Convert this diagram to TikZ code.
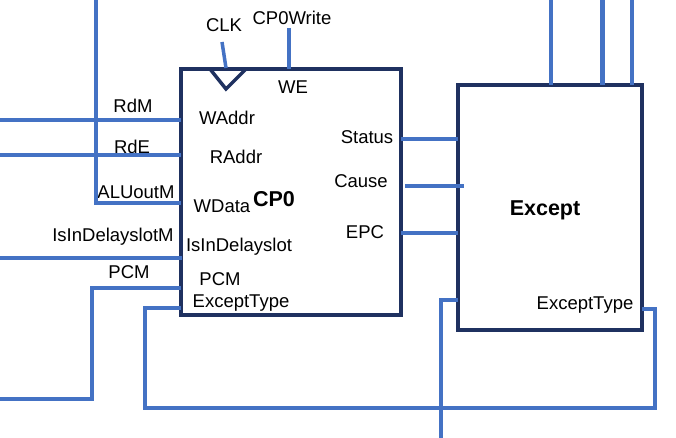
\documentclass[tikz,border=0pt]{standalone}
\usepackage{fontspec}
\setmainfont{Liberation Sans}
\definecolor{wireblue}{HTML}{4472C4}
\definecolor{boxnavy}{HTML}{1F3160}
\begin{document}
\begin{tikzpicture}[x=1pt, y=-1pt,
		font=\fontsize{18.5}{20}\selectfont,
		blk/.style={draw=boxnavy, line width=3.5pt, rectangle, inner sep=0pt},
		wire/.style={draw=wireblue, line width=3.5pt},
		lbl/.style={inner sep=0pt, text=black},
		title/.style={inner sep=0pt, font=\fontsize{21.5}{24}\selectfont\bfseries}]
	\useasboundingbox (0,0) rectangle (676,438);
	% the two blocks
	\node[blk, minimum width=220pt, minimum height=246pt] (cp0) at (291,192) {};
	\node[blk, minimum width=184pt, minimum height=245pt] (exc) at (550,207.5) {};
	\node[title] (cp0name) at (274,199) {CP0};
	\node[title] (excname) at (545,210) {Except};
	% clock mark
	\draw[draw=boxnavy, line width=3.5pt] (210,69) -- (226,89) -- (246,69);
	% ports of CP0
	\node[lbl] (we)     at (293,87)  {WE};
	\node[lbl] (waddr)  at (227,118) {WAddr};
	\node[lbl] (raddr)  at (236,157) {RAddr};
	\node[lbl] (wdata)  at (222,206) {WData};
	\node[lbl] (isin)   at (239,247) {IsInDelayslot};
	\node[lbl] (pcin)   at (220,279) {PCM};
	\node[lbl] (exct)   at (241,303) {ExceptType};
	\node[lbl] (status) at (367,137) {Status};
	\node[lbl] (cause)  at (361,181) {Cause};
	\node[lbl] (epc)    at (365,232) {EPC};
	\node[lbl] (exct2)  at (585,305) {ExceptType};
	% signal names
	\node[lbl] (clk)     at (224,25)  {CLK};
	\node[lbl] (cpwrite) at (292,18)  {CP0Write};
	\node[lbl] (rdm)     at (133,106) {RdM};
	\node[lbl] (rde)     at (132,147) {RdE};
	\node[lbl] (alum)    at (136,192) {ALUoutM};
	\node[lbl] (isinm)   at (113,237) {IsInDelayslotM};
	\node[lbl] (pcm)     at (129,272) {PCM};
	% wire ends
	\coordinate (clkA) at (222,42);   \coordinate (clkB) at (226,68);
	\coordinate (weA)  at (289,28);   \coordinate (weB)  at (289,69);
	\coordinate (rdmA) at (0,120);    \coordinate (rdmB) at (181,120);
	\coordinate (rdeA) at (0,155);    \coordinate (rdeB) at (181,155);
	\coordinate (aluA) at (96,0);     \coordinate (aluB) at (181,203);
	\coordinate (isA)  at (0,258);    \coordinate (isB)  at (182,258);
	\coordinate (pcA)  at (0,399);    \coordinate (pcB)  at (181,288);
	\coordinate (etA)  at (181,308);  \coordinate (etB)  at (642,309);
	\coordinate (stA)  at (401,139);  \coordinate (stB)  at (458,139);
	\coordinate (caA)  at (405,186);  \coordinate (caB)  at (464,186);
	\coordinate (epA)  at (401,233);  \coordinate (epB)  at (458,233);
	\coordinate (inA)  at (458,300);  \coordinate (inB)  at (441,438);
	\coordinate (t1A)  at (551,0);    \coordinate (t1B)  at (551,85);
	\coordinate (t2A)  at (602,0);    \coordinate (t2B)  at (602,85);
	\coordinate (t3A)  at (632,0);    \coordinate (t3B)  at (632,85);
	% wires
	\draw[wire] (clkA) -- (clkB);
	\draw[wire] (weA) -- (weB);
	\draw[wire] (rdmA) -- (rdmB);
	\draw[wire] (rdeA) -- (rdeB);
	\draw[wire] (aluA) |- (aluB);
	\draw[wire] (isA) -- (isB);
	\draw[wire] (pcA) -- ++(92,0) |- (pcB);
	\draw[wire] (etA) -| (145,408) -| (655,309) -- (etB);
	\draw[wire] (stA) -- (stB);
	\draw[wire] (caA) -- (caB);
	\draw[wire] (epA) -- (epB);
	\draw[wire] (inA) -| (inB);
	\draw[wire] (t1A) -- (t1B);
	\draw[wire, line width=5pt] (t2A) -- (t2B);
	\draw[wire, line width=4.5pt] (t3A) -- (t3B);
\end{tikzpicture}
\end{document}
